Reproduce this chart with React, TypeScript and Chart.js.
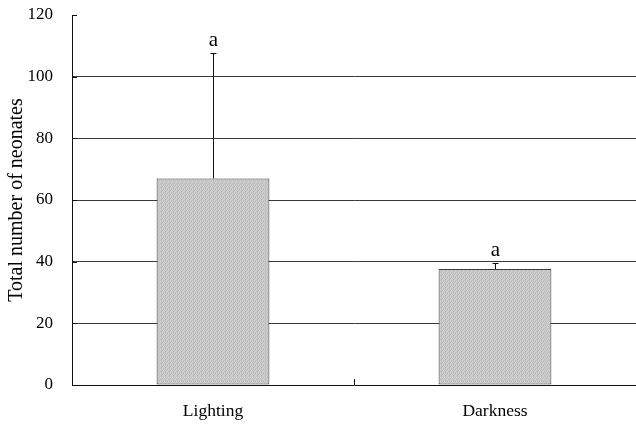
import React, { useEffect, useRef } from 'react';
import { Chart, registerables } from 'chart.js';

Chart.register(...registerables);

const categories = ['Lighting', 'Darkness'];
const means = [67, 37.6];
const errorsUpper = [40.7, 1.9];
const letters = ['a', 'a'];
const yMin = 0;
const yMax = 120;
const yStep = 20;
const yTitle = 'Total number of neonates';

const SERIF = '"Liberation Serif", "Times New Roman", serif';

export default function App() {
  const ref = useRef<HTMLCanvasElement>(null);

  useEffect(() => {
    document.body.style.margin = '0';
    const canvas = ref.current!;

    // stippled grey fill
    const pc = document.createElement('canvas');
    pc.width = 4;
    pc.height = 4;
    const pctx = pc.getContext('2d')!;
    const shades = [
      '#c8c8c8', '#bcbcbc', '#d2d2d2', '#c4c4c4',
      '#d4d4d4', '#c2c2c2', '#cacaca', '#bababa',
      '#c1c1c1', '#cecece', '#bebebe', '#d2d2d2',
      '#cbcbcb', '#bbbbbb', '#c6c6c6', '#cdcdcd',
    ];
    shades.forEach((s, i) => {
      pctx.fillStyle = s;
      pctx.fillRect(i % 4, Math.floor(i / 4), 1, 1);
    });
    const pattern = canvas.getContext('2d')!.createPattern(pc, 'repeat')!;

    const overlay = {
      id: 'overlay',
      afterDatasetsDraw(chart: any) {
        const { ctx } = chart;
        const yScale = chart.scales.y;
        const meta = chart.getDatasetMeta(0);
        ctx.save();
        meta.data.forEach((bar: any, i: number) => {
          const x = Math.round(bar.x) + 0.5;
          const yTop = Math.round(yScale.getPixelForValue(means[i] + errorsUpper[i])) + 0.5;
          const yBar = bar.y;
          ctx.strokeStyle = '#111';
          ctx.lineWidth = 1;
          ctx.beginPath();
          ctx.moveTo(x, yBar);
          ctx.lineTo(x, yTop);
          ctx.moveTo(x - 3, yTop);
          ctx.lineTo(x + 3, yTop);
          ctx.stroke();
          ctx.fillStyle = '#000';
          ctx.font = `21px ${SERIF}`;
          ctx.textAlign = 'center';
          ctx.textBaseline = 'bottom';
          ctx.fillText(letters[i], x, yTop - 3);
        });
        ctx.restore();
      },
      afterDraw(chart: any) {
        const { ctx, chartArea } = chart;
        const yScale = chart.scales.y;
        const xScale = chart.scales.x;
        ctx.save();
        ctx.strokeStyle = '#111';
        ctx.lineWidth = 1;
        ctx.beginPath();
        // inward tick marks on the y axis
        yScale.ticks.forEach((t: any) => {
          const py = Math.round(yScale.getPixelForValue(t.value)) + 0.5;
          ctx.moveTo(chartArea.left, py);
          ctx.lineTo(chartArea.left + 5, py);
        });
        // inward tick marks between categories
        for (let i = 0; i < categories.length - 1; i++) {
          const px = Math.round((xScale.getPixelForValue(i) + xScale.getPixelForValue(i + 1)) / 2) + 0.5;
          ctx.moveTo(px, chartArea.bottom);
          ctx.lineTo(px, chartArea.bottom - 6);
        }
        ctx.stroke();
        ctx.restore();
      },
    };

    const chart = new Chart(canvas, {
      type: 'bar',
      data: {
        labels: categories,
        datasets: [
          {
            data: means,
            backgroundColor: pattern as any,
            borderColor: '#3a3a3a',
            borderWidth: 1,
            borderSkipped: false,
            barPercentage: 0.4,
            categoryPercentage: 1,
          },
        ],
      },
      options: {
        responsive: false,
        animation: false,
        layout: { padding: { top: 15, right: 0, left: 0, bottom: 0 } },
        plugins: {
          legend: { display: false },
          tooltip: { enabled: false },
        },
        scales: {
          x: {
            offset: true,
            grid: { display: false, drawTicks: false },
            border: { display: true, color: '#111', width: 1 },
            ticks: {
              color: '#000',
              padding: 16,
              font: { family: SERIF, size: 17.5 },
            },
            afterFit(scale: any) {
              scale.height = 41;
              scale.paddingLeft = 0;
              scale.paddingRight = 0;
            },
          },
          y: {
            min: yMin,
            max: yMax,
            ticks: {
              stepSize: yStep,
              color: '#000',
              padding: 19,
              font: { family: SERIF, size: 17 },
            },
            grid: {
              drawTicks: false,
              color: (c: any) =>
                c.tick && (c.tick.value === yMin || c.tick.value === yMax) ? 'rgba(0,0,0,0)' : '#3a3a3a',
              lineWidth: 1,
            },
            border: { display: true, color: '#111', width: 1 },
            title: {
              display: true,
              text: yTitle,
              color: '#000',
              font: { family: SERIF, size: 20 },
              padding: { top: 5, bottom: 0 },
            },
            afterFit(scale: any) {
              scale.width = 72;
              scale.paddingTop = 0;
              scale.paddingBottom = 0;
            },
          },
        },
      },
      plugins: [overlay],
    });

    return () => chart.destroy();
  }, []);

  return (
    <div style={{ width: 636, height: 426, background: '#fff' }}>
      <canvas ref={ref} width={636} height={426} style={{ display: 'block' }} />
    </div>
  );
}
